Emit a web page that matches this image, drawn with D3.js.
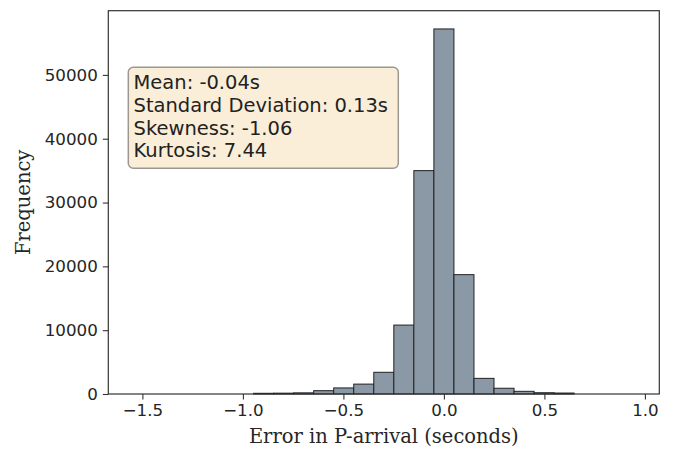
<!DOCTYPE html>
<html>
<head>
<meta charset="utf-8">
<script src="https://cdn.jsdelivr.net/npm/d3@7"></script>
<style>
body { margin: 0; background: white; }
svg { display: block; }
</style>
</head>
<body>
<div class="canvas"></div>
<script>
var W = 673;
var H = 450;

// histogram: 25 equal bins from bin_lo to bin_hi
var bin_lo = -1.545;
var bin_hi = 0.947;
var counts = [1, 0, 0, 0, 2, 4, 110, 130, 180, 520, 950, 1550, 3400, 10800, 35000, 57200, 18700, 2450, 900, 420, 200, 150, 3, 1, 1];

var x_ticks = [-1.5, -1.0, -0.5, 0.0, 0.5, 1.0];
var y_ticks = [0, 10000, 20000, 30000, 40000, 50000];

var stats_lines = ['Mean: -0.04s', 'Standard Deviation: 0.13s', 'Skewness: -1.06', 'Kurtosis: 7.44'];
var x_label = 'Error in P-arrival (seconds)';
var y_label = 'Frequency';

// plot box (note: "top" is taken by window.top)
var ax_l = 108.3, ax_r = 659.3, ax_t = 10.7, ax_b = 394;
var sans = '"DejaVu Sans", sans-serif';
var serif = '"DejaVu Serif", serif';

var bins = [];
var step = (bin_hi - bin_lo) / counts.length;
for (var i = 0; i < counts.length; ++i) {
	bins.push({x0: bin_lo + i * step, x1: bin_lo + (i + 1) * step, n: counts[i]});
}

// matplotlib style 5% margin on x, top margin on y
var span = bin_hi - bin_lo;
var x = d3.scaleLinear().domain([bin_lo - 0.05 * span, bin_hi + 0.05 * span]).range([ax_l, ax_r]);
var y = d3.scaleLinear().domain([0, d3.max(counts) * 1.05]).range([ax_b, ax_t]);

var svg = d3.select('div.canvas').append('svg').attr('width', W).attr('height', H);

// bins with a handful of counts vanish into the spine, skip them
svg.append('g').selectAll('rect')
	.data(bins.filter(function(d) { return y(0) - y(d.n) > 0.1; }))
	.enter().append('rect')
	.attr('x', function(d) { return x(d.x0); })
	.attr('y', function(d) { return y(d.n); })
	.attr('width', function(d) { return x(d.x1) - x(d.x0); })
	.attr('height', function(d) { return y(0) - y(d.n); })
	.attr('fill', '#8b98a5')
	.attr('stroke', '#222')
	.attr('stroke-width', 1);

var fmt_x = function(v) { return d3.format('.1f')(v).replace('-', '\u2212'); };

var gx = svg.append('g').attr('transform', 'translate(0,' + ax_b + ')')
	.call(d3.axisBottom(x).tickValues(x_ticks).tickFormat(fmt_x).tickSize(5.5).tickPadding(5));
var gy = svg.append('g').attr('transform', 'translate(' + ax_l + ',0)')
	.call(d3.axisLeft(y).tickValues(y_ticks).tickFormat(d3.format('d')).tickSize(5.5).tickPadding(5));

[gx, gy].forEach(function(g) {
	g.select('.domain').remove();
	g.selectAll('line').attr('stroke', '#333').attr('stroke-width', 1.1);
	g.selectAll('text').style('font-family', sans).style('font-size', '16.7px').attr('fill', '#262626');
});

// frame
svg.append('rect')
	.attr('x', ax_l).attr('y', ax_t)
	.attr('width', ax_r - ax_l).attr('height', ax_b - ax_t)
	.attr('fill', 'none').attr('stroke', '#333').attr('stroke-width', 1.2);

svg.append('text')
	.attr('x', (ax_l + ax_r) / 2).attr('y', 443)
	.attr('text-anchor', 'middle')
	.style('font-family', serif).style('font-size', '19.5px').attr('fill', '#262626')
	.text(x_label);

svg.append('text')
	.attr('transform', 'translate(30,' + ((ax_t + ax_b) / 2) + ') rotate(-90)')
	.attr('text-anchor', 'middle')
	.style('font-family', serif).style('font-size', '19.5px').attr('fill', '#262626')
	.text(y_label);

// stats box
var box = svg.append('g');
box.append('rect')
	.attr('x', 128.3).attr('y', 67.3).attr('width', 270).attr('height', 101)
	.attr('rx', 5).attr('ry', 5)
	.attr('fill', '#faeed9').attr('stroke', '#9c9890').attr('stroke-width', 1.5);
box.selectAll('text')
	.data(stats_lines)
	.enter().append('text')
	.attr('x', 133.5)
	.attr('y', function(d, i) { return 89.3 + i * 22.7; })
	.style('font-family', sans).style('font-size', '19.5px').attr('fill', '#222')
	.text(function(d) { return d; });
</script>
</body>
</html>
